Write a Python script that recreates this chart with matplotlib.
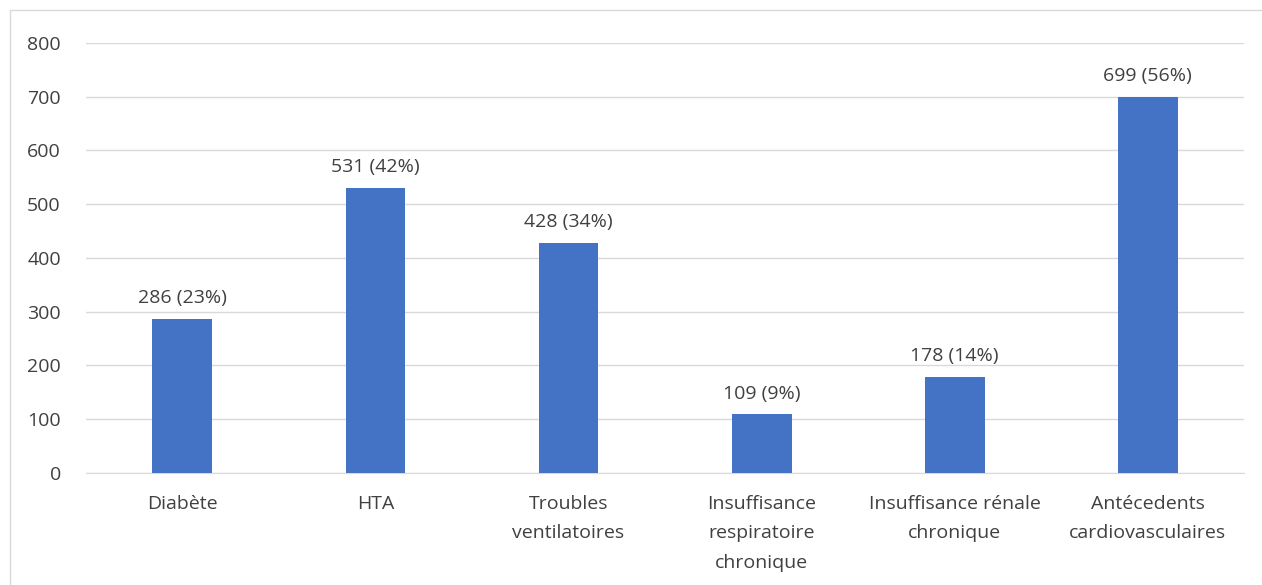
import matplotlib.pyplot as plt
from matplotlib.patches import Rectangle

# Données
categories = ["Diabète", "HTA", "Troubles\nventilatoires",
              "Insuffisance\nrespiratoire\nchronique",
              "Insuffisance rénale\nchronique",
              "Antécedents\ncardiovasculaires"]
effectifs = [286, 531, 428, 109, 178, 699]
pourcentages = [23, 42, 34, 9, 14, 56]
yticks = [0, 100, 200, 300, 400, 500, 600, 700, 800]

plt.rcParams['font.family'] = ['Open Sans', 'DejaVu Sans']
fs = 14

fig = plt.figure(figsize=(12.62, 5.85), dpi=100)
ax = fig.add_axes([0.068, 0.1915, 0.918, 0.735])

x = range(len(categories))
bars = ax.bar(x, effectifs, width=0.31, color="#4472C4", zorder=3)

# Étiquettes des barres
for b, n, p in zip(bars, effectifs, pourcentages):
    ax.text(b.get_x() + b.get_width() / 2, n + 22, f"{n} ({p}%)",
            ha="center", va="bottom", fontsize=fs, color="#404040")

ax.set_xlim(-0.5, len(categories) - 0.5)
ax.set_ylim(0, 800)
ax.set_yticks(yticks)
ax.set_xticks(list(x))
ax.set_xticklabels(categories, fontsize=fs, color="#404040", linespacing=1.8)
ax.tick_params(axis="y", labelsize=fs, labelcolor="#404040", length=0, pad=18)
ax.tick_params(axis="x", length=0, pad=16)
ax.grid(axis="y", color="#d9d9d9", linewidth=1, zorder=0)

for s in ["left", "right", "top"]:
    ax.spines[s].set_visible(False)
ax.spines["bottom"].set_color("#d9d9d9")

# Cadre du graphique
fig.patches.append(Rectangle((10 / 1262, -0.01), 1.0, 1 - 10 / 585 + 0.01,
                             transform=fig.transFigure, fill=False,
                             edgecolor="#d9d9d9", linewidth=1))

fig.savefig("out.png", dpi=100)
